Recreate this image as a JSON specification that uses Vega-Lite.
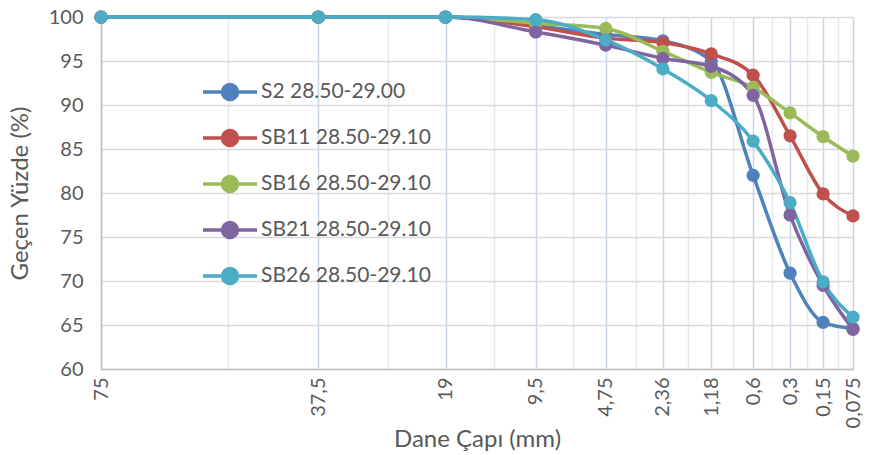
{
  "$schema": "https://vega.github.io/schema/vega-lite/v6.json",
  "width": 752,
  "height": 352,
  "autosize": {"type": "none"},
  "padding": {"left": 101, "top": 17, "right": 25, "bottom": 86},
  "background": "white",
  "config": {
    "view": {"stroke": null},
    "font": "Lato",
    "axis": {"labelFont": "Lato", "titleFont": "Lato", "labelColor": "#595959", "titleColor": "#595959", "titleFontWeight": "normal"},
    "legend": {"labelFont": "Lato"}
  },
  "data": {
    "values": [
      {"series": "S2 28.50-29.00", "no": 1, "sieve_mm": 75, "pct": 100},
      {"series": "S2 28.50-29.00", "no": 2, "sieve_mm": 37.5, "pct": 100},
      {"series": "S2 28.50-29.00", "no": 3, "sieve_mm": 19, "pct": 100},
      {"series": "S2 28.50-29.00", "no": 4, "sieve_mm": 9.5, "pct": 99.0},
      {"series": "S2 28.50-29.00", "no": 5, "sieve_mm": 4.75, "pct": 98.0},
      {"series": "S2 28.50-29.00", "no": 6, "sieve_mm": 2.36, "pct": 97.3},
      {"series": "S2 28.50-29.00", "no": 7, "sieve_mm": 1.18, "pct": 95.0},
      {"series": "S2 28.50-29.00", "no": 8, "sieve_mm": 0.6, "pct": 82.0},
      {"series": "S2 28.50-29.00", "no": 9, "sieve_mm": 0.3, "pct": 70.9},
      {"series": "S2 28.50-29.00", "no": 10, "sieve_mm": 0.15, "pct": 65.3},
      {"series": "S2 28.50-29.00", "no": 11, "sieve_mm": 0.075, "pct": 64.6},
      {"series": "SB11 28.50-29.10", "no": 1, "sieve_mm": 75, "pct": 100},
      {"series": "SB11 28.50-29.10", "no": 2, "sieve_mm": 37.5, "pct": 100},
      {"series": "SB11 28.50-29.10", "no": 3, "sieve_mm": 19, "pct": 100},
      {"series": "SB11 28.50-29.10", "no": 4, "sieve_mm": 9.5, "pct": 98.9},
      {"series": "SB11 28.50-29.10", "no": 5, "sieve_mm": 4.75, "pct": 97.6},
      {"series": "SB11 28.50-29.10", "no": 6, "sieve_mm": 2.36, "pct": 97.1},
      {"series": "SB11 28.50-29.10", "no": 7, "sieve_mm": 1.18, "pct": 95.8},
      {"series": "SB11 28.50-29.10", "no": 8, "sieve_mm": 0.6, "pct": 93.4},
      {"series": "SB11 28.50-29.10", "no": 9, "sieve_mm": 0.3, "pct": 86.5},
      {"series": "SB11 28.50-29.10", "no": 10, "sieve_mm": 0.15, "pct": 79.9},
      {"series": "SB11 28.50-29.10", "no": 11, "sieve_mm": 0.075, "pct": 77.4},
      {"series": "SB16 28.50-29.10", "no": 1, "sieve_mm": 75, "pct": 100},
      {"series": "SB16 28.50-29.10", "no": 2, "sieve_mm": 37.5, "pct": 100},
      {"series": "SB16 28.50-29.10", "no": 3, "sieve_mm": 19, "pct": 100},
      {"series": "SB16 28.50-29.10", "no": 4, "sieve_mm": 9.5, "pct": 99.3},
      {"series": "SB16 28.50-29.10", "no": 5, "sieve_mm": 4.75, "pct": 98.7},
      {"series": "SB16 28.50-29.10", "no": 6, "sieve_mm": 2.36, "pct": 96.1},
      {"series": "SB16 28.50-29.10", "no": 7, "sieve_mm": 1.18, "pct": 93.7},
      {"series": "SB16 28.50-29.10", "no": 8, "sieve_mm": 0.6, "pct": 92.0},
      {"series": "SB16 28.50-29.10", "no": 9, "sieve_mm": 0.3, "pct": 89.1},
      {"series": "SB16 28.50-29.10", "no": 10, "sieve_mm": 0.15, "pct": 86.4},
      {"series": "SB16 28.50-29.10", "no": 11, "sieve_mm": 0.075, "pct": 84.2},
      {"series": "SB21 28.50-29.10", "no": 1, "sieve_mm": 75, "pct": 100},
      {"series": "SB21 28.50-29.10", "no": 2, "sieve_mm": 37.5, "pct": 100},
      {"series": "SB21 28.50-29.10", "no": 3, "sieve_mm": 19, "pct": 100},
      {"series": "SB21 28.50-29.10", "no": 4, "sieve_mm": 9.5, "pct": 98.3},
      {"series": "SB21 28.50-29.10", "no": 5, "sieve_mm": 4.75, "pct": 96.8},
      {"series": "SB21 28.50-29.10", "no": 6, "sieve_mm": 2.36, "pct": 95.3},
      {"series": "SB21 28.50-29.10", "no": 7, "sieve_mm": 1.18, "pct": 94.4},
      {"series": "SB21 28.50-29.10", "no": 8, "sieve_mm": 0.6, "pct": 91.1},
      {"series": "SB21 28.50-29.10", "no": 9, "sieve_mm": 0.3, "pct": 77.5},
      {"series": "SB21 28.50-29.10", "no": 10, "sieve_mm": 0.15, "pct": 69.5},
      {"series": "SB21 28.50-29.10", "no": 11, "sieve_mm": 0.075, "pct": 64.5},
      {"series": "SB26 28.50-29.10", "no": 1, "sieve_mm": 75, "pct": 100},
      {"series": "SB26 28.50-29.10", "no": 2, "sieve_mm": 37.5, "pct": 100},
      {"series": "SB26 28.50-29.10", "no": 3, "sieve_mm": 19, "pct": 100},
      {"series": "SB26 28.50-29.10", "no": 4, "sieve_mm": 9.5, "pct": 99.7},
      {"series": "SB26 28.50-29.10", "no": 5, "sieve_mm": 4.75, "pct": 97.4},
      {"series": "SB26 28.50-29.10", "no": 6, "sieve_mm": 2.36, "pct": 94.1},
      {"series": "SB26 28.50-29.10", "no": 7, "sieve_mm": 1.18, "pct": 90.5},
      {"series": "SB26 28.50-29.10", "no": 8, "sieve_mm": 0.6, "pct": 85.9},
      {"series": "SB26 28.50-29.10", "no": 9, "sieve_mm": 0.3, "pct": 78.9},
      {"series": "SB26 28.50-29.10", "no": 10, "sieve_mm": 0.15, "pct": 69.9},
      {"series": "SB26 28.50-29.10", "no": 11, "sieve_mm": 0.075, "pct": 65.9}
    ]
  },
  "encoding": {
    "y": {
      "field": "pct", "type": "quantitative",
      "scale": {"domain": [60, 100], "nice": false, "zero": false},
      "axis": {
        "values": [60, 65, 70, 75, 80, 85, 90, 95, 100],
        "title": "Geçen Yüzde (%)",
        "titleFontSize": 24,
        "titlePadding": 16,
        "labelFontSize": 20,
        "labelPadding": 18,
        "ticks": false,
        "domain": true, "domainColor": "#BFBFBF", "domainWidth": 1.5,
        "grid": true, "gridColor": "#D9D9D9", "gridWidth": 1.5
      }
    },
    "color": {
      "field": "series", "type": "nominal",
      "scale": {"range": ["#4F81BD", "#C0504D", "#9BBB59", "#8064A2", "#4BACC6"]},
      "legend": {
        "title": null,
        "orient": "none",
        "legendX": 100,
        "legendY": 46,
        "padding": 0,
        "rowPadding": 2,
        "labelFontSize": 21,
        "labelColor": "#595959",
        "labelOffset": 2,
        "labelLimit": 400,
        "symbolSize": 2916,
        "symbolStrokeWidth": 3.5,
        "symbolType": "M-1,0L1,0M-0.278,0A0.278,0.278,0,1,1,0.278,0A0.278,0.278,0,1,1,-0.278,0Z",
        "encode": {
          "symbols": {
            "update": {
              "fill": {"scale": "color", "field": "value"},
              "stroke": {"scale": "color", "field": "value"},
              "opacity": {"value": 1}
            }
          }
        }
      }
    }
  },
  "layer": [
    {
      "mark": {"type": "line", "interpolate": "monotone", "strokeWidth": 3.5},
      "encoding": {
        "x": {
          "field": "no", "type": "quantitative",
          "scale": {"type": "log", "domain": [1, 11], "nice": false},
          "axis": {
            "orient": "top",
            "values": [1.5, 2.5, 3.5, 4.5, 5.5, 6.5, 7.5, 8.5, 9.5, 10.5],
            "labels": false, "ticks": false, "domain": false, "title": null,
            "grid": true, "gridColor": "#E8E8E8", "gridWidth": 1.5
          }
        }
      }
    },
    {
      "mark": {"type": "point", "filled": true, "size": 175, "opacity": 1},
      "encoding": {
        "x": {
          "field": "no", "type": "quantitative",
          "scale": {"type": "log", "domain": [1, 11], "nice": false},
          "axis": {
            "orient": "bottom",
            "values": [1, 2, 3, 4, 5, 6, 7, 8, 9, 10, 11],
            "labelExpr": "['75','37,5','19','9,5','4,75','2,36','1,18','0,6','0,3','0,15','0,075'][datum.value - 1]",
            "labelAngle": -90,
            "labelFontSize": 20,
            "labelPadding": 8,
            "ticks": false,
            "domain": true, "domainColor": "#BFBFBF", "domainWidth": 1.5,
            "grid": true, "gridColor": "#C6D6EA", "gridWidth": 1.5,
            "title": "Dane Çapı (mm)",
            "titleFontSize": 24,
            "titlePadding": 0
          }
        }
      }
    }
  ],
  "resolve": {"axis": {"x": "independent"}}
}
